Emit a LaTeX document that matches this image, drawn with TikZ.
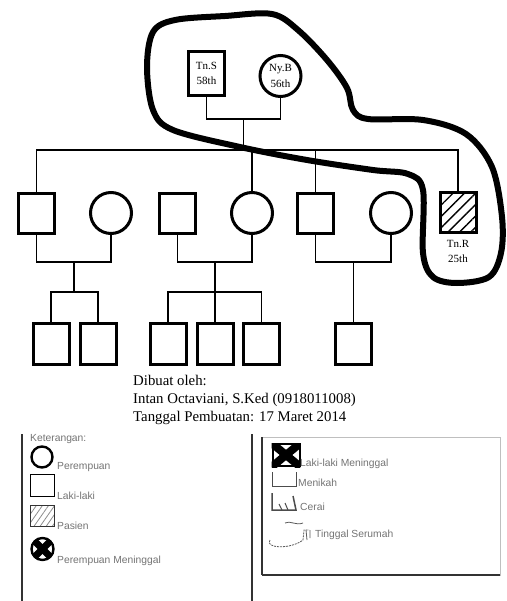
\documentclass[tikz,border=0pt]{standalone}
\usepackage{fontspec}
\setmainfont{Liberation Serif}
\newfontfamily\legfont{Liberation Sans}
\usetikzlibrary{patterns.meta}
\begin{document}
\begin{tikzpicture}[x=1pt,y=-1pt,
  sq/.style={draw, line width=3pt, minimum width=36pt, minimum height=40pt, inner sep=0pt},
  fem/.style={draw, circle, line width=3pt, minimum size=41pt, inner sep=0pt},
  ln/.style={line width=1.6pt},
  lbl/.style={font=\fontsize{11}{15.5}\selectfont, align=center},
  info/.style={anchor=base west, inner sep=0pt, font=\fontsize{14.8}{17}\selectfont},
  leg/.style={anchor=base west, inner sep=0pt, text=black!55, font=\legfont\fontsize{10.3}{12}\selectfont},
  hatch/.style={pattern={Lines[angle=45,distance=8pt,line width=1.4pt]}}]
\useasboundingbox (0,0) rectangle (506,601);

% generation 1
\node[sq, minimum height=44pt, lbl] (tns) at (206.5,73.5) {Tn.S\\58th};
\node[fem, lbl] (nyb) at (280.5,76) {Ny.B\\56th};
\coordinate (m1) at (243.5,119);
\coordinate (sib) at (243.5,150);
\draw[ln] (tns.south) |- (m1);
\draw[ln] (nyb.south) |- (m1);
\draw[ln] (m1) -- (sib);

% generation 2
\node[sq] (s1) at (36.5,213.5) {};
\node[fem] (c1) at (111,213) {};
\node[sq] (s2) at (177.5,213.5) {};
\node[fem] (c2) at (252,213) {};
\node[sq] (s3) at (315.5,213.5) {};
\node[fem] (c3) at (391,213) {};
\node[sq, hatch] (pat) at (458,212.5) {};
\node[lbl, anchor=north, inner sep=0pt] (patlbl) at (458,240) {Tn.R\\25th};

\draw[ln] (s1.north) |- (pat.north |- sib) -- (pat.north);
\draw[ln] (c2.north) -- (c2.north |- sib);
\draw[ln] (s3.north) -- (s3.north |- sib);

% couples
\coordinate (m2) at (74,262);
\coordinate (m3) at (215,262);
\coordinate (m4) at (353.5,262);
\draw[ln] (s1.south) |- (m2) -| (c1.south);
\draw[ln] (s2.south) |- (m3) -| (c2.south);
\draw[ln] (s3.south) |- (m4) -| (c3.south);

% generation 3
\node[sq, minimum height=41pt] (g1) at (51,343.5) {};
\node[sq, minimum height=41pt] (g2) at (98,343.5) {};
\node[sq, minimum height=41pt] (g3) at (168,343.5) {};
\node[sq, minimum height=41pt] (g4) at (215,343.5) {};
\node[sq, minimum height=41pt] (g5) at (261.5,343.5) {};
\node[sq, minimum height=41pt] (g6) at (353.5,343.5) {};

\coordinate (k1) at (74,292);
\coordinate (k2) at (215,292);
\draw[ln] (m2) -- (k1);
\draw[ln] (g1.north) |- (k1) -| (g2.north);
\draw[ln] (m3) -- (g4.north);
\draw[ln] (g3.north) |- (k2) -| (g5.north);
\draw[ln] (m4) -- (g6.north);

% enclosing curve
\draw[line width=6pt, line join=round] plot[smooth cycle, tension=0.55] coordinates {
 (175,20) (225,16) (272,14) (298,30) (327,60) (347,88) (353,110) (368,119)
 (423,120) (466,134) (492,167) (502,217) (501,253) (489,277) (457,283)
 (433,277) (423,253) (423,190) (408,174) (373,170) (307,160) (240,147)
 (173,130) (153,110) (147,67) (153,32)};

% info text
\node[info] (t1) at (133,385) {Dibuat oleh:};
\node[info] (t2) at (133,403) {Intan Octaviani, S.Ked (0918011008)};
\node[info] (t3) at (133,421) {Tanggal Pembuatan: 17 Maret 2014};

% legend frames
\draw[line width=1.3pt, black!80] (22,434) -- (22,601);
\draw[line width=1.3pt, black!80] (252,434) -- (252,601);
\draw[line width=0.6pt, black!25] (262,437) rectangle (500,575);
\draw[line width=1.2pt, black!80] (262,437) -- (262,575);
\draw[line width=2.2pt, black!80] (262,575) -- (500,575);

% left legend
\node[leg] (kt) at (30,441) {Keterangan:};
\node[draw, circle, line width=2.4pt, minimum size=21pt, inner sep=0pt] (lc) at (42,457) {};
\node[leg] (lcl) at (57,469) {Perempuan};
\node[draw, line width=1.8pt, minimum width=24pt, minimum height=22pt, inner sep=0pt] (ls) at (42.5,485.5) {};
\node[leg] (lsl) at (57,499) {Laki-laki};
\node[draw, line width=1.2pt, black!80, minimum width=24pt, minimum height=21pt, inner sep=0pt,
  pattern={Lines[angle=55,distance=5pt,line width=0.8pt]}, pattern color=black!45] (lp) at (42.5,516) {};
\node[leg] (lpl) at (57,529) {Pasien};
\node[draw, circle, line width=2.4pt, minimum size=22pt, inner sep=0pt] (lm) at (42.5,549) {};
\begin{scope}
\clip (42.5,549) circle (12pt);
\draw[line width=7pt] (lm.north west) -- (lm.south east);
\draw[line width=7pt] (lm.north east) -- (lm.south west);
\end{scope}
\node[leg] (lml) at (57,563) {Perempuan Meninggal};

% right legend
\node[draw, line width=2pt, minimum width=27pt, minimum height=22pt, inner sep=0pt] (rx) at (286,455) {};
\begin{scope}
\clip (rx.south west) rectangle (rx.north east);
\draw[line width=8pt] (rx.north west) -- (rx.south east);
\draw[line width=8pt] (rx.north east) -- (rx.south west);
\end{scope}
\node[leg] (rxl) at (300,466) {Laki-laki Meninggal};
\coordinate (mk1) at (272,472);
\coordinate (mk2) at (296,472);
\draw[line width=1pt, black!70] (mk1) -- (272,486) -- (296,486) -- (mk2);
\node[leg] (mkl) at (298,486) {Menikah};
\coordinate (ce1) at (272,493);
\coordinate (ce2) at (293,496);
\draw[line width=1.5pt, black!70] (ce1) -- (272,510) -- (296,510) -- (ce2);
\draw[line width=1pt, black!70] (279,504) -- (282,510) (285,503) -- (288,510);
\node[leg] (cel) at (300,510) {Cerai};
\coordinate (ts1) at (270,540);
\draw[line width=0.8pt, black!65, dash pattern=on 2pt off 1pt] (ts1) .. controls (264,548) and (290,550) .. (303,540) -- (304,530) -- (309,530);
\draw[line width=0.8pt, black!65] (285,523) .. controls (290,520) and (296,526) .. (303,523) (306,530) -- (307,540) (310,530) -- (310,538);
\node[leg] (tsl) at (315,537) {Tinggal Serumah};
\end{tikzpicture}
\end{document}
